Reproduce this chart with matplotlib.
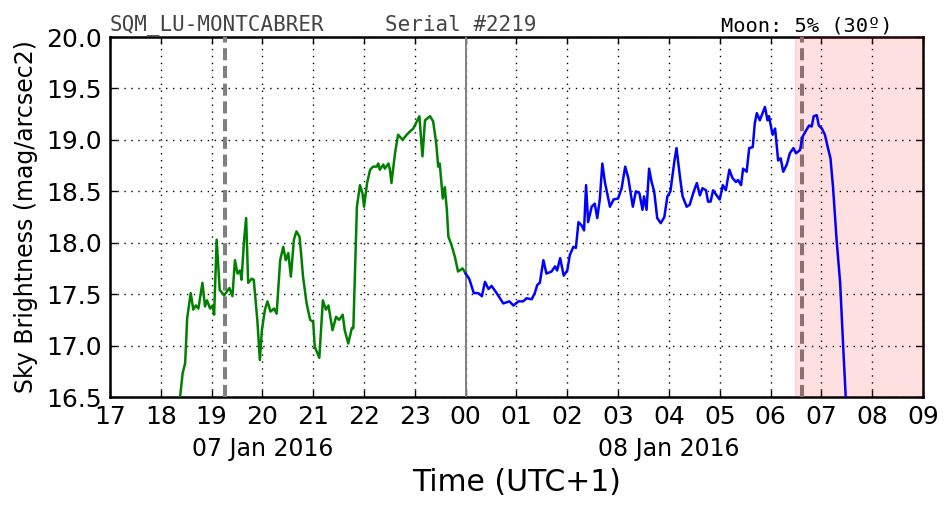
import matplotlib
matplotlib.use('Agg')
import matplotlib.pyplot as plt
import matplotlib.transforms as mtransforms

# hours since 00:00 on 07 Jan 2016 (UTC+1), sky brightness in mag/arcsec2
night1_hours = [18.36, 18.38, 18.43, 18.48, 18.52, 18.59, 18.64, 18.69, 18.74, 18.82, 18.87,
                18.91, 18.97, 19.02, 19.05, 19.10, 19.16, 19.25, 19.35, 19.41, 19.46, 19.51,
                19.56, 19.59, 19.64, 19.68, 19.72, 19.79, 19.83, 19.90, 19.95, 19.99, 20.05,
                20.10, 20.16, 20.23, 20.28, 20.35, 20.41, 20.46, 20.51, 20.56, 20.62, 20.67,
                20.73, 20.76, 20.80, 20.87, 20.94, 21.00, 21.03, 21.12, 21.19, 21.25, 21.30,
                21.38, 21.45, 21.51, 21.58, 21.62, 21.69, 21.76, 21.79, 21.86, 21.92, 21.97,
                22.00, 22.06, 22.12, 22.18, 22.25, 22.28, 22.31, 22.38, 22.41, 22.48, 22.51,
                22.54, 22.61, 22.67, 22.76, 22.84, 22.90, 22.97, 23.04, 23.09, 23.12, 23.15,
                23.20, 23.30, 23.36, 23.42, 23.46, 23.49, 23.55, 23.59, 23.63, 23.66, 23.72,
                23.79, 23.85, 23.94, 24.00]
night1_mag = [16.30, 16.50, 16.73, 16.83, 17.27, 17.51, 17.35, 17.39, 17.36, 17.61, 17.38,
              17.44, 17.36, 17.39, 17.30, 18.03, 17.54, 17.49, 17.56, 17.48, 17.83, 17.70,
              17.73, 17.64, 18.03, 18.24, 17.61, 17.65, 17.64, 17.25, 16.86, 17.15, 17.35,
              17.43, 17.33, 17.36, 17.31, 17.83, 17.96, 17.83, 17.90, 17.67, 18.03, 18.11,
              18.06, 17.90, 17.67, 17.41, 17.25, 17.23, 16.99, 16.88, 17.44, 17.35, 17.39,
              17.15, 17.28, 17.25, 17.30, 17.15, 17.02, 17.17, 17.17, 18.35, 18.56, 18.48,
              18.35, 18.58, 18.71, 18.74, 18.74, 18.77, 18.71, 18.76, 18.72, 18.77, 18.71,
              18.58, 18.87, 19.05, 19.00, 19.05, 19.08, 19.11, 19.18, 19.23, 19.03, 18.84,
              19.19, 19.23, 19.18, 18.97, 18.74, 18.77, 18.43, 18.54, 18.32, 18.06, 17.98,
              17.86, 17.72, 17.75, 17.70]

night2_hours = [24.00, 24.07, 24.16, 24.25, 24.32, 24.38, 24.45, 24.51, 24.61, 24.74, 24.86,
                24.94, 25.04, 25.13, 25.20, 25.30, 25.36, 25.41, 25.46, 25.53, 25.59, 25.69,
                25.76, 25.80, 25.86, 25.93, 26.00, 26.05, 26.12, 26.17, 26.22, 26.28, 26.33,
                26.37, 26.41, 26.48, 26.54, 26.59, 26.64, 26.69, 26.74, 26.84, 26.91, 27.00,
                27.07, 27.14, 27.20, 27.29, 27.35, 27.42, 27.48, 27.51, 27.56, 27.61, 27.66,
                27.71, 27.77, 27.84, 27.91, 27.97, 28.03, 28.11, 28.15, 28.22, 28.27, 28.35,
                28.41, 28.49, 28.55, 28.61, 28.66, 28.73, 28.77, 28.82, 28.87, 28.94, 29.00,
                29.06, 29.12, 29.19, 29.25, 29.32, 29.36, 29.42, 29.46, 29.53, 29.58, 29.65,
                29.69, 29.73, 29.79, 29.82, 29.89, 29.94, 29.97, 30.04, 30.09, 30.15, 30.20,
                30.25, 30.32, 30.38, 30.45, 30.50, 30.58, 30.63, 30.71, 30.76, 30.81, 30.85,
                30.91, 30.95, 31.01, 31.07, 31.14, 31.18, 31.23, 31.30, 31.37, 31.43, 31.48,
                31.52]
night2_mag = [17.70, 17.65, 17.51, 17.51, 17.48, 17.62, 17.55, 17.58, 17.51, 17.41, 17.43,
              17.39, 17.43, 17.43, 17.46, 17.45, 17.51, 17.59, 17.61, 17.83, 17.70, 17.72,
              17.77, 17.73, 17.85, 17.68, 17.73, 17.88, 17.96, 17.95, 18.20, 18.17, 18.12,
              18.56, 18.20, 18.35, 18.38, 18.24, 18.42, 18.77, 18.59, 18.35, 18.42, 18.43,
              18.53, 18.74, 18.63, 18.35, 18.50, 18.48, 18.32, 18.45, 18.32, 18.72, 18.59,
              18.50, 18.24, 18.19, 18.25, 18.45, 18.50, 18.80, 18.92, 18.63, 18.45, 18.35,
              18.37, 18.50, 18.58, 18.46, 18.53, 18.51, 18.40, 18.40, 18.51, 18.46, 18.42,
              18.56, 18.51, 18.71, 18.63, 18.59, 18.61, 18.56, 18.72, 18.69, 18.92, 18.93,
              19.16, 19.26, 19.19, 19.23, 19.32, 19.19, 19.23, 19.05, 19.11, 18.80, 18.82,
              18.69, 18.76, 18.87, 18.92, 18.87, 18.90, 19.03, 19.10, 19.14, 19.13, 19.23,
              19.24, 19.14, 19.11, 19.05, 18.90, 18.82, 18.54, 18.03, 17.61, 16.99, 16.50,
              16.20]

twilight_marks = [19.26, 30.62]
midnight = 24.0
moon_start = 30.48
x_ticks = list(range(17, 34))
x_labels = ['%02d' % (h % 24) for h in x_ticks]
y_ticks = [16.5, 17.0, 17.5, 18.0, 18.5, 19.0, 19.5, 20.0]
date_labels = [(20.0, '07 Jan 2016'), (28.0, '08 Jan 2016')]

fig = plt.figure(figsize=(9.52, 5.12), dpi=100)
ax = fig.add_axes([0.1155, 0.2246, 0.854, 0.7031])

ax.plot(night1_hours, night1_mag, color='green', lw=1.8, zorder=5)
ax.plot(night2_hours, night2_mag, color='blue', lw=1.8, zorder=5)

for t in twilight_marks:
    ax.axvline(t, color='gray', lw=2.9, dashes=(3, 1.4), zorder=3)
ax.axvline(midnight, color='gray', lw=1.4, zorder=3)
ax.axvspan(moon_start, 33, color='red', alpha=0.12, zorder=4)

ax.set_xlim(17, 33)
ax.set_ylim(16.5, 20.0)
ax.set_xticks(x_ticks)
ax.set_xticklabels(x_labels)
ax.set_yticks(y_ticks)
ax.set_yticklabels(['%.1f' % v for v in y_ticks])
ax.grid(True, color='black', linestyle=(0, (1, 4)), lw=1.0)
ax.tick_params(direction='in', top=True, right=True, length=5, width=1,
               labelsize=18, pad=6)
for sp in ax.spines.values():
    sp.set_linewidth(1.8)

ax.set_ylabel('Sky Brightness (mag/arcsec2)', fontsize=17, labelpad=6)
ax.set_xlabel('Time (UTC+1)', fontsize=21.5, labelpad=28)

trans = mtransforms.blended_transform_factory(ax.transData, ax.transAxes)
for pos, txt in date_labels:
    ax.text(pos, -0.11, txt, transform=trans, ha='center', va='top', fontsize=17)

ax.text(0.0, 1.005, 'SQM_LU-MONTCABRER', transform=ax.transAxes, ha='left', va='bottom',
        family='DejaVu Sans Mono', fontsize=15, color='#444444')
ax.text(0.338, 1.005, 'Serial #2219', transform=ax.transAxes, ha='left', va='bottom',
        family='DejaVu Sans Mono', fontsize=15, color='#444444')
ax.text(0.963, 1.005, 'Moon: 5% (30º)', transform=ax.transAxes, ha='right', va='bottom',
        family='DejaVu Sans Mono', fontsize=14.7, color='black')

fig.savefig('out.png', dpi=100)
